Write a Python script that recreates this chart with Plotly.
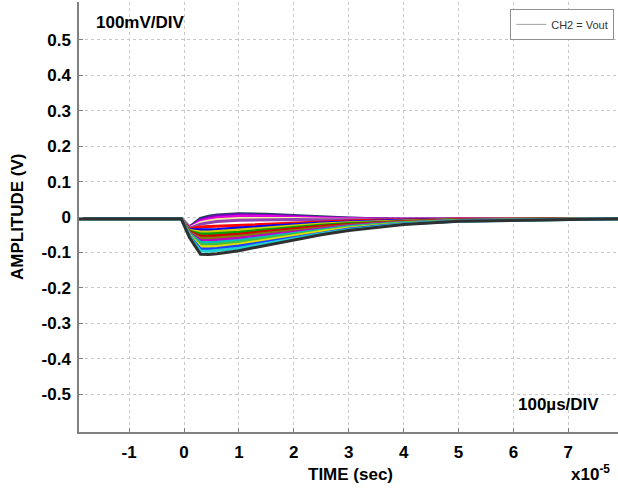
import plotly.graph_objects as go

# time samples (x1e-5 s) and the family of Vout traces (V)
time_us = [-1.93, -0.05, 0.1, 0.3, 0.45, 0.6, 1.0, 1.5, 2.0, 2.5, 3.0, 3.5, 4.0, 5.0, 7.95]

vout_traces = [
    [-0.005, -0.005, -0.028, -0.004, 0.002, 0.006, 0.009, 0.008, 0.004, 0.000, -0.003, -0.005, -0.006, -0.005, -0.005],
    [-0.005, -0.005, -0.029, -0.008, -0.002, 0.003, 0.006, 0.005, 0.002, -0.002, -0.004, -0.005, -0.006, -0.005, -0.005],
    [-0.005, -0.005, -0.030, -0.012, -0.006, -0.002, 0.002, 0.002, -0.001, -0.004, -0.005, -0.006, -0.006, -0.005, -0.005],
    [-0.005, -0.005, -0.031, -0.016, -0.011, -0.008, -0.004, -0.003, -0.004, -0.006, -0.007, -0.007, -0.007, -0.006, -0.005],
    [-0.005, -0.005, -0.032, -0.020, -0.016, -0.013, -0.009, -0.007, -0.007, -0.008, -0.008, -0.008, -0.007, -0.006, -0.005],
    [-0.005, -0.005, -0.034, -0.028, -0.027, -0.026, -0.024, -0.020, -0.016, -0.013, -0.011, -0.009, -0.008, -0.006, -0.005],
    [-0.005, -0.005, -0.036, -0.036, -0.036, -0.035, -0.031, -0.026, -0.021, -0.017, -0.014, -0.011, -0.009, -0.007, -0.005],
    [-0.005, -0.005, -0.038, -0.042, -0.042, -0.041, -0.037, -0.031, -0.025, -0.020, -0.016, -0.013, -0.011, -0.007, -0.005],
    [-0.005, -0.005, -0.040, -0.048, -0.048, -0.047, -0.043, -0.036, -0.029, -0.023, -0.018, -0.015, -0.012, -0.008, -0.005],
    [-0.005, -0.005, -0.042, -0.054, -0.054, -0.053, -0.049, -0.041, -0.033, -0.026, -0.021, -0.017, -0.013, -0.008, -0.005],
    [-0.005, -0.005, -0.044, -0.060, -0.060, -0.059, -0.054, -0.046, -0.037, -0.029, -0.023, -0.018, -0.014, -0.009, -0.005],
    [-0.005, -0.005, -0.046, -0.066, -0.066, -0.065, -0.060, -0.051, -0.041, -0.032, -0.025, -0.019, -0.015, -0.009, -0.005],
    [-0.005, -0.005, -0.048, -0.072, -0.072, -0.071, -0.066, -0.056, -0.045, -0.035, -0.027, -0.021, -0.016, -0.010, -0.005],
    [-0.005, -0.005, -0.050, -0.078, -0.078, -0.077, -0.071, -0.060, -0.049, -0.038, -0.029, -0.022, -0.017, -0.010, -0.005],
    [-0.005, -0.005, -0.052, -0.084, -0.084, -0.083, -0.077, -0.065, -0.052, -0.041, -0.031, -0.024, -0.018, -0.011, -0.005],
    [-0.005, -0.005, -0.054, -0.090, -0.090, -0.089, -0.082, -0.070, -0.056, -0.044, -0.034, -0.026, -0.019, -0.011, -0.005],
    [-0.005, -0.005, -0.056, -0.096, -0.097, -0.095, -0.088, -0.075, -0.060, -0.047, -0.036, -0.027, -0.020, -0.012, -0.005],
    [-0.005, -0.005, -0.058, -0.105, -0.106, -0.104, -0.095, -0.080, -0.064, -0.050, -0.038, -0.029, -0.021, -0.012, -0.005],
]

trace_colors = ['#1f3f5f', '#8000c0', '#e000e0', '#f0f0a0', '#9040b0', '#ff0000',
                '#0000ff', '#d0d000', '#00a000', '#d00000', '#808000', '#c000c0',
                '#00c0c0', '#40c040', '#e0e000', '#2040ff', '#20d0d0', '#303030']

x_ticks = [-1, 0, 1, 2, 3, 4, 5, 6, 7]
y_ticks = [-0.5, -0.4, -0.3, -0.2, -0.1, 0, 0.1, 0.2, 0.3, 0.4, 0.5]

t = [v * 1e-5 for v in time_us]
font = "Liberation Sans, Arial, sans-serif"

fig = go.Figure()
for vals, col in zip(vout_traces, trace_colors):
    fig.add_trace(go.Scatter(x=t, y=vals, mode='lines', line=dict(color=col, width=3),
                             showlegend=False, hoverinfo='skip'))
# legend entry only
fig.add_trace(go.Scatter(x=[None], y=[None], mode='lines', name='CH2 = Vout',
                         line=dict(color='#a0a0a0', width=1)))

fig.update_layout(
    width=618, height=489,
    margin=dict(l=79, r=0, t=2, b=57),
    plot_bgcolor='white', paper_bgcolor='white',
    font=dict(family=font, size=17, color='black'),
    legend=dict(x=0.993, y=0.984, xanchor='right', yanchor='top',
                bordercolor='#909090', borderwidth=1, bgcolor='white',
                font=dict(size=11, color='#333333'), tracegroupgap=0,
                itemwidth=30),
    annotations=[
        dict(text='<b>100mV/DIV</b>', xref='paper', yref='paper', x=0.028, y=0.953,
             xanchor='left', yanchor='middle', showarrow=False, font=dict(size=17)),
        dict(text='<b>100µs/DIV</b>', xref='paper', yref='paper', x=0.811, y=0.065,
             xanchor='left', yanchor='middle', showarrow=False, font=dict(size=17)),
        dict(text='<b>x10<sup>-5</sup></b>', xref='paper', yref='paper', x=0.909, y=-0.095,
             xanchor='left', yanchor='middle', showarrow=False, font=dict(size=17)),
        dict(text='<b>TIME (sec)</b>', xref='paper', yref='paper', x=0.503, y=-0.098,
             xanchor='center', yanchor='middle', showarrow=False, font=dict(size=17)),
        dict(text='<b>AMPLITUDE (V)</b>', xref='paper', yref='paper', x=-0.115, y=0.5,
             xanchor='center', yanchor='middle', showarrow=False, textangle=-90,
             font=dict(size=17)),
    ],
)
fig.update_xaxes(range=[-1.913e-5, 7.905e-5], tickvals=[v * 1e-5 for v in x_ticks],
                 ticktext=['<b>%d</b>' % v for v in x_ticks], automargin=False,
                 showline=True, linecolor='#808080', linewidth=1.5,
                 ticks='inside', ticklen=4, tickcolor='#808080', ticklabelstandoff=4,
                 showgrid=True, gridcolor='#c8c8c8', griddash='dot', gridwidth=1,
                 zeroline=False, tickfont=dict(size=17))
fig.update_yaxes(range=[-0.607, 0.607], tickvals=y_ticks,
                 ticktext=['<b>%g</b>' % v for v in y_ticks], automargin=False,
                 showline=True, linecolor='#808080', linewidth=1.5,
                 ticks='inside', ticklen=4, tickcolor='#808080', ticklabelstandoff=3,
                 showgrid=True, gridcolor='#c8c8c8', griddash='dot', gridwidth=1,
                 zeroline=False, tickfont=dict(size=17))

# the page body has an 8px default margin; drop it so the figure sits at the corner
fig.write_html("out.html", config={'displayModeBar': False},
               post_script="document.body.style.margin='0';")
